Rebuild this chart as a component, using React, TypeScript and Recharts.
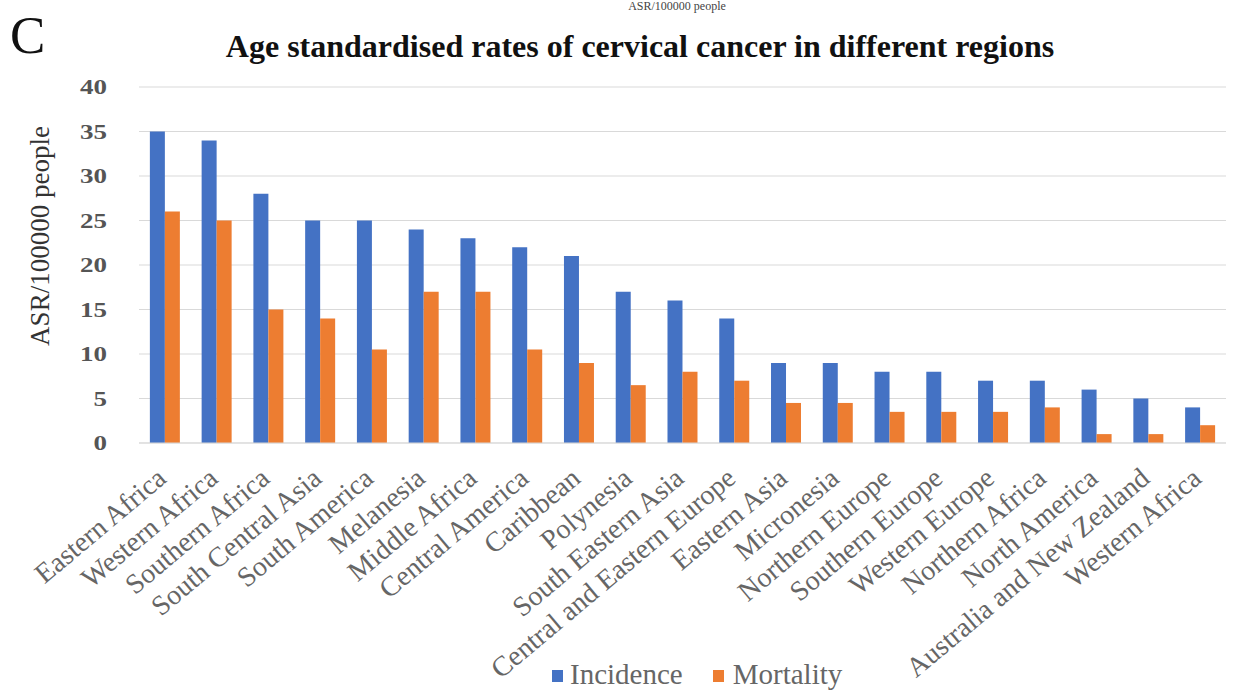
import { BarChart, Bar, XAxis, YAxis, CartesianGrid } from 'recharts'

const regions = [
  'Eastern Africa',
  'Western Africa',
  'Southern Africa',
  'South Central Asia',
  'South America',
  'Melanesia',
  'Middle Africa',
  'Central America',
  'Caribbean',
  'Polynesia',
  'South Eastern Asia',
  'Central and Eastern Europe',
  'Eastern Asia',
  'Micronesia',
  'Northern Europe',
  'Southern Europe',
  'Western Europe',
  'Northern Africa',
  'North America',
  'Australia and New Zealand',
  'Western Africa',
]
const incidence = [35, 34, 28, 25, 25, 24, 23, 22, 21, 17, 16, 14, 9, 9, 8, 8, 7, 7, 6, 5, 4]
const mortality = [26, 25, 15, 14, 10.5, 17, 17, 10.5, 9, 6.5, 8, 7, 4.5, 4.5, 3.5, 3.5, 3.5, 4, 1, 1, 2]
const yTicks = [0, 5, 10, 15, 20, 25, 30, 35, 40]

const BLUE = '#4472C4'
const ORANGE = '#ED7D31'
const SERIF = '"Liberation Serif", "DejaVu Serif", serif'

const data = regions.map((r, i) => ({
  region: r,
  Incidence: incidence[i],
  Mortality: mortality[i],
}))

// slanted category names, anchored at their end just below the bar pair
function RegionTick(props: any) {
  const { x, y, payload } = props
  const tx = x + 3
  const ty = y + 30
  return (
    <text
      x={tx}
      y={ty}
      transform={`rotate(-40 ${tx} ${ty})`}
      textAnchor="end"
      fontFamily={SERIF}
      fontSize={28}
      fill="#666"
    >
      {payload.value}
    </text>
  )
}

// wide, heavy-looking value labels
function ValueTick(props: any) {
  const { x, y, payload } = props
  const s = String(payload.value)
  return (
    <text
      x={x}
      y={y + 7}
      textAnchor="end"
      fontFamily={SERIF}
      fontSize={20}
      fontWeight="bold"
      fill="#555"
      textLength={s.length * 13.5}
      lengthAdjust="spacingAndGlyphs"
    >
      {s}
    </text>
  )
}

export default function App() {
  return (
    <div
      style={{
        position: 'fixed',
        left: 0,
        top: 0,
        width: 1235,
        height: 691,
        overflow: 'hidden',
        background: '#fff',
        fontFamily: SERIF,
      }}
    >
      <div
        style={{
          position: 'absolute',
          top: 0,
          left: 0,
          width: 1354,
          textAlign: 'center',
          fontSize: 12,
          lineHeight: '12px',
          color: '#444',
        }}
      >
        ASR/100000 people
      </div>
      <div style={{ position: 'absolute', top: 5, left: 10, fontSize: 53, lineHeight: 1.15, color: '#111' }}>C</div>
      <div
        style={{
          position: 'absolute',
          top: 28,
          left: 0,
          width: 1280,
          textAlign: 'center',
          fontSize: 32,
          fontWeight: 'bold',
          color: '#111',
        }}
      >
        Age standardised rates of cervical cancer in different regions
      </div>
      <div
        style={{
          position: 'absolute',
          left: 40,
          top: 236,
          transform: 'translate(-50%, -50%) rotate(-90deg)',
          whiteSpace: 'nowrap',
          fontSize: 27,
          color: '#333',
        }}
      >
        ASR/100000 people
      </div>

      <BarChart
        width={1235}
        height={691}
        data={data}
        margin={{ top: 87, right: 9, bottom: 8, left: 99 }}
        barGap={0}
        barCategoryGap="21%"
      >
        <CartesianGrid vertical={false} stroke="#d9d9d9" />
        <XAxis
          dataKey="region"
          interval={0}
          height={240}
          tick={<RegionTick />}
          tickLine={false}
          axisLine={{ stroke: '#d9d9d9' }}
        />
        <YAxis
          width={40}
          domain={[0, 40]}
          ticks={yTicks}
          tickLine={false}
          axisLine={false}
          tickMargin={26}
          tick={<ValueTick />}
        />
        <Bar dataKey="Incidence" fill={BLUE} isAnimationActive={false} />
        <Bar dataKey="Mortality" fill={ORANGE} isAnimationActive={false} />
      </BarChart>

      <div
        style={{
          position: 'absolute',
          left: 552,
          top: 659,
          display: 'flex',
          alignItems: 'center',
          fontSize: 29,
          lineHeight: '30px',
          color: '#666',
        }}
      >
        <span style={{ width: 11, height: 12, background: BLUE, marginRight: 7, marginTop: 4 }} />
        <span style={{ marginRight: 30 }}>Incidence</span>
        <span style={{ width: 11, height: 12, background: ORANGE, marginRight: 9, marginTop: 4 }} />
        <span>Mortality</span>
      </div>
    </div>
  )
}
